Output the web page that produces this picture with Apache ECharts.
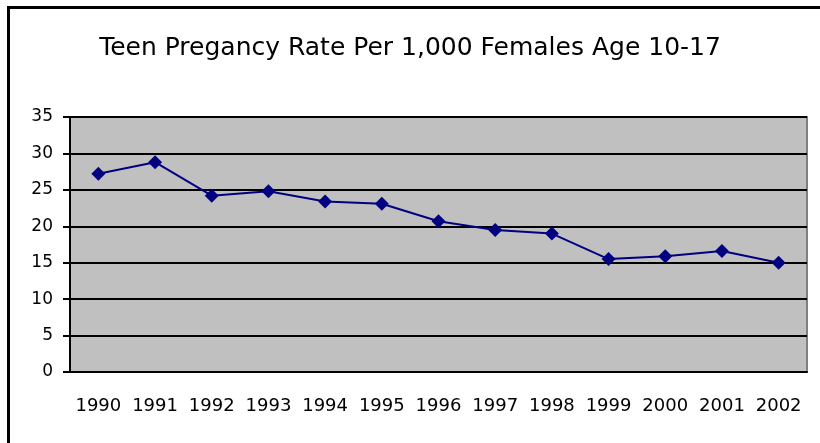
<!DOCTYPE html>
<html>
<head>
<meta charset="utf-8">
<script src="https://cdn.jsdelivr.net/npm/echarts@6/dist/echarts.min.js"></script>
<style>
  html, body { margin: 0; padding: 0; background: #fff; }
  #chart { width: 820px; height: 443px; }
</style>
</head>
<body>
<div id="chart"></div>
<script>
// 年份（横轴）
const years = ['1990', '1991', '1992', '1993', '1994', '1995', '1996',
    '1997', '1998', '1999', '2000', '2001', '2002']
// 每千名 10-17 岁女性的怀孕率
const rates = [27.2, 28.8, 24.2, 24.8, 23.4, 23.1, 20.7, 19.5, 19.0, 15.5, 15.9, 16.6, 15.0]
const titleText = 'Teen Pregancy Rate Per 1,000 Females Age 10-17'

const font = '"DejaVu Sans", Verdana, sans-serif'

const chart = echarts.init(document.getElementById('chart'), null, { renderer: 'canvas' })

chart.setOption({
    backgroundColor: '#ffffff',
    animation: false,
    title: {
        text: titleText,
        left: 'center',
        top: 31,
        textStyle: {
            fontFamily: font,
            fontWeight: 'normal',
            fontSize: 25,
            color: '#000'
        }
    },
    // 外框（左、上两边可见）
    graphic: [{
        type: 'rect',
        shape: { x: 8.5, y: 7.5, width: 900, height: 900 },
        style: { fill: 'none', stroke: '#000', lineWidth: 3 },
        silent: true
    }],
    grid: {
        left: 70,
        right: 13,
        top: 117,
        bottom: 71,
        show: true,
        backgroundColor: '#c0c0c0',
        borderColor: '#808080',
        borderWidth: 2
    },
    xAxis: {
        type: 'category',
        data: years,
        boundaryGap: true,
        axisLine: { lineStyle: { color: '#000', width: 2 } },
        axisTick: { inside: false, length: 8, interval: 0, lineStyle: { color: '#000', width: 2 } },
        axisLabel: {
            interval: 0,
            hideOverlap: false,
            margin: 25,
            fontFamily: font,
            fontSize: 18,
            color: '#000'
        },
        splitLine: { show: false }
    },
    yAxis: {
        type: 'value',
        min: 0,
        max: 35,
        interval: 5,
        axisLine: { show: true, lineStyle: { color: '#000', width: 2 } },
        axisTick: { show: true, length: 7, lineStyle: { color: '#000', width: 2 } },
        axisLabel: {
            margin: 17,
            fontFamily: font,
            fontSize: 17,
            color: '#000'
        },
        splitLine: { show: true, lineStyle: { color: '#000', width: 2 } }
    },
    series: [{
        type: 'line',
        data: rates,
        symbol: 'diamond',
        symbolSize: 14,
        itemStyle: { color: '#000080' },
        lineStyle: { color: '#000080', width: 2 }
    }]
})
</script>
</body>
</html>
